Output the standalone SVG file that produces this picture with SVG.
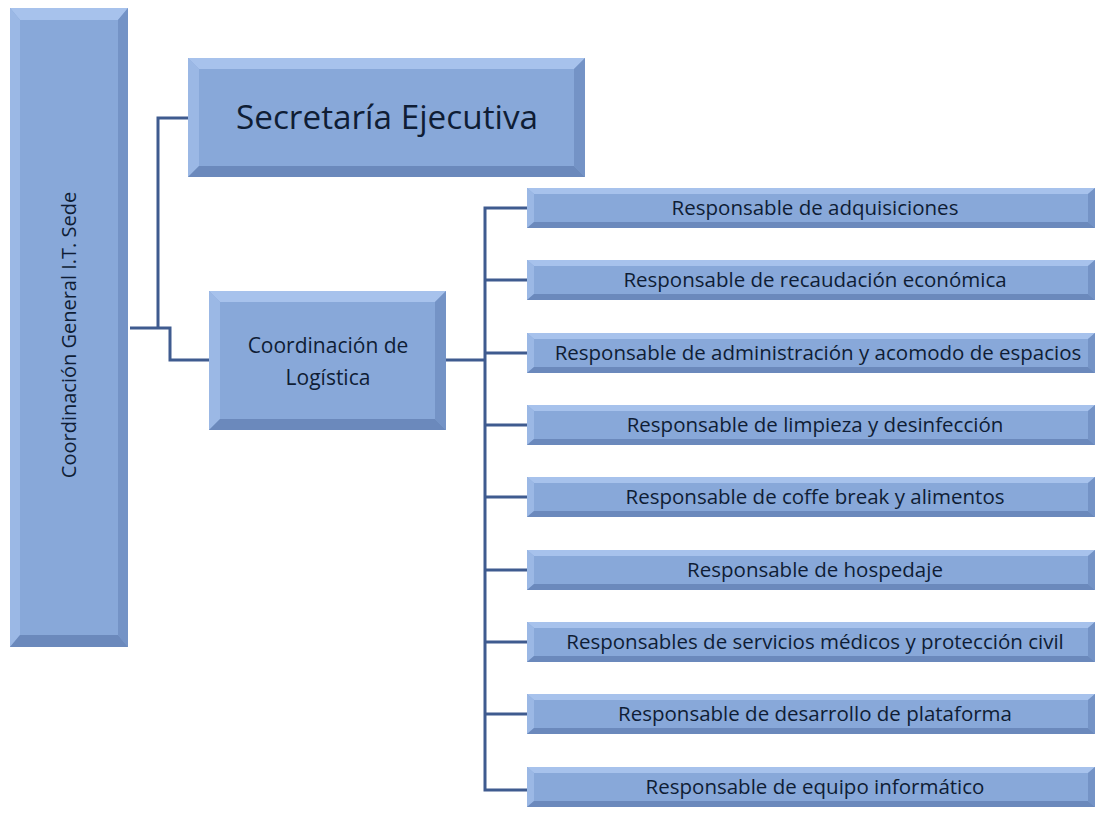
<svg xmlns="http://www.w3.org/2000/svg" width="1099" height="820" viewBox="0 0 1099 820">
<style>
.face{fill:#88a8d9;}
.top{fill:#a7c2ec;}
.left{fill:#9bb8e5;}
.right{fill:#7493c6;}
.bot{fill:#6b89bc;}
.t{font-family:"Open Sans","Liberation Sans",sans-serif;fill:#0f1d35;text-anchor:middle;}
.s{font-size:20.5px;}
.conn{fill:none;stroke:#3f5b8f;stroke-width:3;}
</style>
<rect width="1099" height="820" fill="#ffffff"/>
<g id="connectors">
<polyline class="conn" points="188,118 158,118 158,328"/>
<polyline class="conn" points="130,328 170,328 170,360 209,360"/>
<polyline class="conn" points="446,360 485,360"/>
<polyline class="conn" points="527,208 485,208 485,790 527,790"/>
<line class="conn" x1="485" y1="280" x2="527" y2="280"/>
<line class="conn" x1="485" y1="353" x2="527" y2="353"/>
<line class="conn" x1="485" y1="425" x2="527" y2="425"/>
<line class="conn" x1="485" y1="497" x2="527" y2="497"/>
<line class="conn" x1="485" y1="570" x2="527" y2="570"/>
<line class="conn" x1="485" y1="642" x2="527" y2="642"/>
<line class="conn" x1="485" y1="714" x2="527" y2="714"/>
</g>
<g id="coord-general">
<rect class="face" x="10" y="8" width="118" height="639"/>
<polygon class="top" points="10,8 128,8 118,20 20,20"/>
<polygon class="left" points="10,8 20,20 20,635 10,647"/>
<polygon class="right" points="128,8 128,647 118,635 118,20"/>
<polygon class="bot" points="10,647 128,647 118,635 20,635"/>
<text class="t" font-size="20" transform="translate(76,335) rotate(-90)">Coordinación General I.T. Sede</text>
</g>
<g id="secretaria">
<rect class="face" x="188" y="58" width="397" height="119"/>
<polygon class="top" points="188,58 585,58 574,69 199,69"/>
<polygon class="left" points="188,58 199,69 199,166 188,177"/>
<polygon class="right" points="585,58 585,177 574,166 574,69"/>
<polygon class="bot" points="188,177 585,177 574,166 199,166"/>
<text class="t" font-size="33.3" x="387" y="129">Secretaría Ejecutiva</text>
</g>
<g id="logistica">
<rect class="face" x="209" y="291" width="237" height="139"/>
<polygon class="top" points="209,291 446,291 435,302 220,302"/>
<polygon class="left" points="209,291 220,302 220,419 209,430"/>
<polygon class="right" points="446,291 446,430 435,419 435,302"/>
<polygon class="bot" points="209,430 446,430 435,419 220,419"/>
<text class="t" font-size="21" x="328" y="353">Coordinación de</text>
<text class="t" font-size="21" x="328" y="385">Logística</text>
</g>
<defs>
<g id="bar">
<rect class="face" x="0" y="0" width="568" height="40"/>
<polygon class="top" points="0,0 568,0 561,6 7,6"/>
<polygon class="left" points="0,0 7,6 7,34 0,40"/>
<polygon class="right" points="568,0 568,40 561,34 561,6"/>
<polygon class="bot" points="0,40 568,40 561,34 7,34"/>
</g>
</defs>
<g id="r1"><use href="#bar" x="527" y="188"/><text class="t s" x="815" y="215">Responsable de adquisiciones</text></g>
<g id="r2"><use href="#bar" x="527" y="260"/><text class="t s" x="815" y="287">Responsable de recaudación económica</text></g>
<g id="r3"><use href="#bar" x="527" y="333"/><text class="t s" x="818" y="360">Responsable de administración y acomodo de espacios</text></g>
<g id="r4"><use href="#bar" x="527" y="405"/><text class="t s" x="815" y="432">Responsable de limpieza y desinfección</text></g>
<g id="r5"><use href="#bar" x="527" y="477"/><text class="t s" x="815" y="504">Responsable de coffe break y alimentos</text></g>
<g id="r6"><use href="#bar" x="527" y="550"/><text class="t s" x="815" y="577">Responsable de hospedaje</text></g>
<g id="r7"><use href="#bar" x="527" y="622"/><text class="t s" x="815" y="649">Responsables de servicios médicos y protección civil</text></g>
<g id="r8"><use href="#bar" x="527" y="694"/><text class="t s" x="815" y="721">Responsable de desarrollo de plataforma</text></g>
<g id="r9"><use href="#bar" x="527" y="767"/><text class="t s" x="815" y="794">Responsable de equipo informático</text></g>
</svg>
